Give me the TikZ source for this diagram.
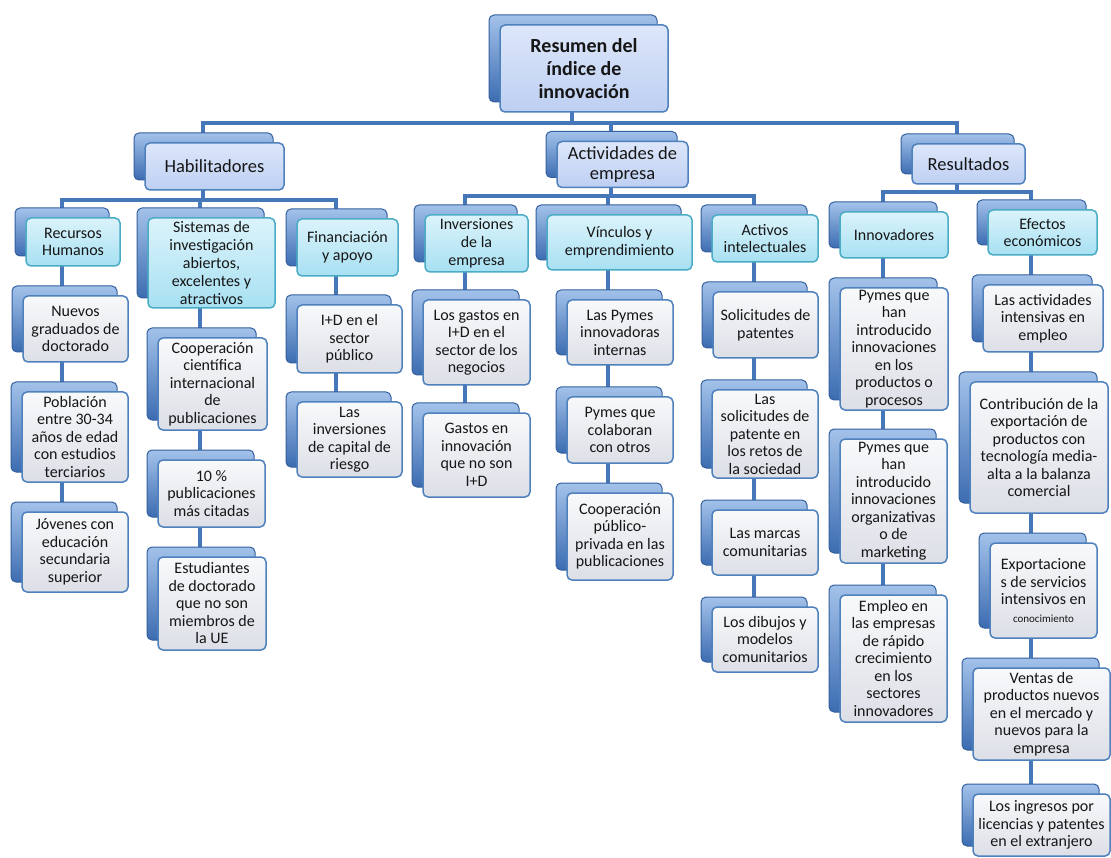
\documentclass[tikz,border=0pt]{standalone}
\usepackage{fontspec}
\setmainfont{Carlito}
\usepackage{tikz}
\usetikzlibrary{shadows,backgrounds,positioning}
\definecolor{backtop}{HTML}{A3C2EA}
\definecolor{backbot}{HTML}{3C6CB1}
\definecolor{backline}{HTML}{34609E}
\definecolor{frameblue}{HTML}{4F81BD}
\definecolor{frameteal}{HTML}{4BACC6}
\definecolor{lavtop}{HTML}{DDE7FA}
\definecolor{lavbot}{HTML}{BDCFF2}
\definecolor{cyantop}{HTML}{DBF3FB}
\definecolor{cyanbot}{HTML}{A7E0F2}
\definecolor{greytop}{HTML}{F8F9FB}
\definecolor{greybot}{HTML}{DCDFE6}
\definecolor{linkblue}{HTML}{4677B8}
\definecolor{inktext}{HTML}{161616}
\tikzset{
    card/.style={rectangle,rounded corners=5pt,line width=1.5pt,align=center,inner sep=1pt,text=inktext,
        general shadow={shadow xshift=-11pt,shadow yshift=10pt,top color=backtop,bottom color=backbot,draw=backline,line width=1pt}},
    headcard/.style={card,draw=frameblue,top color=lavtop,bottom color=lavbot,font=\fontsize{18.5}{20}\selectfont},
    groupcard/.style={card,draw=frameteal,top color=cyantop,bottom color=cyanbot,font=\fontsize{16}{17.8}\selectfont},
    itemcard/.style={card,draw=frameblue,top color=greytop,bottom color=greybot,font=\fontsize{16}{17.5}\selectfont},
    link/.style={draw=linkblue,line width=4pt},
}
\begin{document}
\begin{tikzpicture}[x=1pt,y=-1pt]
    \useasboundingbox (0,0) rectangle (1111,858);
    % top levels
    \node[headcard,font=\fontsize{20}{23}\selectfont\bfseries,minimum width=168pt,minimum height=87pt] (root) at (584,68.5) {Resumen del\\índice de\\innovación};
    \node[headcard,minimum width=139pt,minimum height=47pt] (hab) at (214.5,166.5) {Habilitadores};
    \node[headcard,minimum width=131pt,minimum height=46pt] (act) at (622.5,164.5) {Actividades de\\empresa};
    \node[headcard,minimum width=113pt,minimum height=40pt] (res) at (968.5,164) {Resultados};

    % groups
    \node[groupcard,minimum width=94pt,minimum height=48pt] (rh) at (73,242) {Recursos\\Humanos};
    \node[groupcard,minimum width=127pt,minimum height=90pt] (sis) at (211.5,263) {Sistemas de\\investigación\\abiertos,\\excelentes y\\atractivos};
    \node[groupcard,minimum width=101pt,minimum height=57pt] (fin) at (347.5,247.5) {Financiación\\y apoyo};
    \node[groupcard,minimum width=103pt,minimum height=57pt] (inv) at (476.5,243.5) {Inversiones\\de la\\empresa};
    \node[groupcard,minimum width=145pt,minimum height=55pt] (vin) at (619.5,242.5) {Vínculos y\\emprendimiento};
    \node[groupcard,minimum width=106pt,minimum height=47pt] (ain) at (765,238.5) {Activos\\intelectuales};
    \node[groupcard,minimum width=108pt,minimum height=46pt] (inn) at (894,235) {Innovadores};
    \node[groupcard,minimum width=109pt,minimum height=45pt] (efe) at (1042.5,232.5) {Efectos\\económicos};

    % indicators
    \node[itemcard,minimum width=105pt,minimum height=66pt] (ng) at (75.5,329) {Nuevos\\graduados de\\doctorado};
    \node[itemcard,minimum width=106pt,minimum height=90pt] (pob) at (75,437) {Población\\entre 30-34\\años de edad\\con estudios\\terciarios};
    \node[itemcard,minimum width=106pt,minimum height=80pt] (jov) at (75,552) {Jóvenes con\\educación\\secundaria\\superior};
    \node[itemcard,minimum width=109pt,minimum height=92pt] (coop) at (212.5,384) {Cooperación\\científica\\internacional\\de\\publicaciones};
    \node[itemcard,minimum width=107pt,minimum height=67pt] (pub) at (211.5,493.5) {10 \%\\publicaciones\\más citadas};
    \node[itemcard,minimum width=108pt,minimum height=93pt] (est) at (212,603.5) {Estudiantes\\de doctorado\\que no son\\miembros de\\la UE};
    \node[itemcard,minimum width=105pt,minimum height=68pt] (idp) at (349.5,339) {I+D en el\\sector\\público};
    \node[itemcard,minimum width=105pt,minimum height=75pt] (cap) at (349.5,439.5) {Las\\inversiones\\de capital de\\riesgo};
    \node[itemcard,minimum width=107pt,minimum height=85pt] (gid) at (476.5,342.5) {Los gastos en\\I+D en el\\sector de los\\negocios};
    \node[itemcard,minimum width=107pt,minimum height=84pt] (gin) at (476.5,455) {Gastos en\\innovación\\que no son\\I+D};
    \node[itemcard,minimum width=106pt,minimum height=65pt] (pym) at (620,332.5) {Las Pymes\\innovadoras\\internas};
    \node[itemcard,minimum width=106pt,minimum height=66pt] (col) at (620,430) {Pymes que\\colaboran\\con otros};
    \node[itemcard,minimum width=106pt,minimum height=87pt] (cpp) at (620,536.5) {Cooperación\\público-\\privada en las\\publicaciones};
    \node[itemcard,minimum width=105pt,minimum height=66pt] (sol) at (765.5,325) {Solicitudes de\\patentes};
    \node[itemcard,minimum width=106pt,minimum height=88pt] (ret) at (765,434) {Las\\solicitudes de\\patente en\\los retos de\\la sociedad};
    \node[itemcard,minimum width=106pt,minimum height=65pt] (mar) at (765,542.5) {Las marcas\\comunitarias};
    \node[itemcard,minimum width=106pt,minimum height=65pt] (dib) at (765,639.5) {Los dibujos y\\modelos\\comunitarios};
    \node[itemcard,minimum width=108pt,minimum height=122pt] (pp) at (894,349) {Pymes que\\han\\introducido\\innovaciones\\en los\\productos o\\procesos};
    \node[itemcard,minimum width=107pt,minimum height=124pt] (po) at (893.5,501) {Pymes que\\han\\introducido\\innovaciones\\organizativas\\o de\\marketing};
    \node[itemcard,minimum width=107pt,minimum height=127pt] (emp) at (893.5,658.5) {Empleo en\\las empresas\\de rápido\\crecimiento\\en los\\sectores\\innovadores};
    \node[itemcard,minimum width=120pt,minimum height=67pt] (ae) at (1043,318.5) {Las actividades\\intensivas en\\empleo};
    \node[itemcard,minimum width=138pt,minimum height=131pt] (con) at (1039,447.5) {Contribución de la\\exportación de\\productos con\\tecnología media-\\alta a la balanza\\comercial};
    \node[itemcard,minimum width=107pt,minimum height=95pt] (exp) at (1043.5,590.5) {Exportacione\\s de servicios\\intensivos en\\{\fontsize{11}{13}\selectfont conocimiento}};
    \node[itemcard,minimum width=137pt,minimum height=92pt] (ven) at (1041.5,714) {Ventas de\\productos nuevos\\en el mercado y\\nuevos para la\\empresa};
    \node[itemcard,minimum width=137pt,minimum height=62pt] (ing) at (1041.5,825) {Los ingresos por\\licencias y patentes\\en el extranjero};

    \begin{scope}[on background layer]
        \fill[white] (0,0) rectangle (1111,858);
        \coordinate (rootbar) at ([xshift=-12pt,yshift=-10pt]root.south);
        \coordinate (habbar) at ([xshift=-12pt,yshift=-9pt]hab.south);
        \coordinate (actbar) at ([xshift=-12pt,yshift=-8pt]act.south);
        \coordinate (resbar) at ([xshift=-12pt,yshift=-7pt]res.south);
        \draw[link] ([xshift=-12pt]root.center) -- (rootbar);
        \draw[link] ([xshift=-12pt]hab.center) |- (rootbar) -| ([xshift=-12pt]res.center);
        \draw[link] ([xshift=-12pt]act.center) -- ([xshift=-12pt]act.center |- rootbar);
        \draw[link] ([xshift=-12pt]hab.center) -- (habbar);
        \draw[link] ([xshift=-11.5pt]rh.center) |- (habbar) -| ([xshift=-11.5pt]fin.center);
        \draw[link] ([xshift=-11.5pt]sis.center) -- ([xshift=-11.5pt]sis.center |- habbar);
        \draw[link] ([xshift=-12pt]act.center) -- (actbar);
        \draw[link] ([xshift=-11.5pt]inv.center) |- (actbar) -| ([xshift=-11.5pt]ain.center);
        \draw[link] ([xshift=-11.5pt]vin.center) -- ([xshift=-11.5pt]vin.center |- actbar);
        \draw[link] ([xshift=-12pt]res.center) -- (resbar);
        \draw[link] ([xshift=-11.5pt]inn.center) |- (resbar) -| ([xshift=-11.5pt]efe.center);
        \foreach \colhead/\coltail in {rh/jov,sis/est,fin/cap,inv/gin,vin/cpp,ain/dib,inn/emp,efe/ing}
            \draw[link] ([xshift=-11.5pt]\colhead.center) -- ([xshift=-11.5pt]\colhead.center |- \coltail.center);
    \end{scope}
\end{tikzpicture}
\end{document}
